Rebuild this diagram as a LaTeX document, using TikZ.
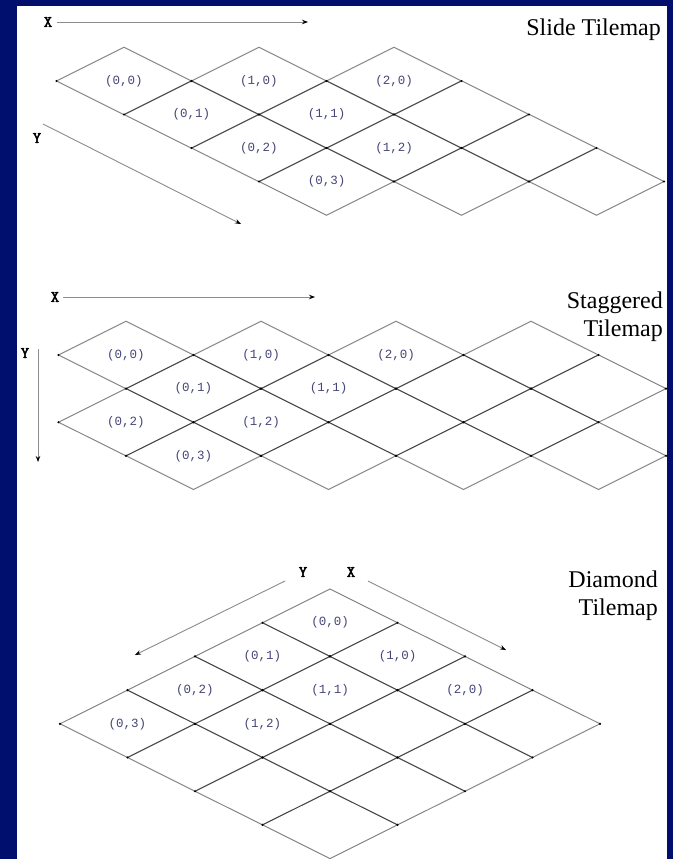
\documentclass[tikz,border=0pt]{standalone}
\usepackage{fontspec}
\setmainfont{Liberation Serif}
\newfontfamily\monolbl{Liberation Mono}
\newfontfamily\axfont[AutoFakeBold=3]{Latin Modern Mono}
\usetikzlibrary{shapes.geometric,arrows.meta}
\definecolor{bgblue}{RGB}{0,14,110}
\definecolor{lblcol}{RGB}{70,70,120}
\tikzset{
  tile/.style={diamond, draw=black, draw opacity=0.48, line width=1pt,
    minimum width=135pt, minimum height=67.4pt, inner sep=0pt, outer sep=0pt},
  lbl/.style={font=\monolbl\fontsize{12.5}{13}\selectfont, text=lblcol, inner sep=0pt},
  axlbl/.style={font=\axfont\bfseries\fontsize{16}{16}\selectfont, inner sep=0pt},
  axisarrow/.style={draw=black!45, line width=0.9pt, -{Stealth[length=6pt,width=4.5pt,color=black]}},
  title/.style={font=\fontsize{24}{28}\selectfont, align=right, inner sep=0pt, anchor=north east},
  vdot/.style={fill=black}
}
\begin{document}
\begin{tikzpicture}[x=1pt,y=-1pt]
\useasboundingbox (0,0) rectangle (673,859);
\fill[bgblue] (0,0) rectangle (673,859);
\fill[white] (17,6) rectangle (667,859);

% ---------- Slide tilemap ----------
\foreach \i in {0,1,2} \foreach \j in {0,...,3}
  \node[tile] (s-\i-\j) at ({124+135*\i+67.5*\j},{81+33.5*\j}) {};
\foreach \i in {0,1,2} \foreach \j in {0,...,3} {
  \fill[vdot] (s-\i-\j.west) circle[radius=1.2pt];
  \fill[vdot] (s-\i-\j.east) circle[radius=1.2pt];
}
\foreach \i/\j in {0/0,1/0,2/0,0/1,1/1,0/2,1/2,0/3}
  \node[lbl] (sl-\i-\j) at (s-\i-\j) {(\i,\j)};
\node[axlbl] (sx) at (48,22) {X};
\coordinate (sxa) at (57,22);
\coordinate (sxb) at (308,22);
\draw[axisarrow] (sxa) -- (sxb);
\node[axlbl] (sy) at (37,138) {Y};
\coordinate (sya) at (43,124);
\coordinate (syb) at (241,224);
\draw[axisarrow] (sya) -- (syb);
\node[title] (st) at (661,18.5) {Slide Tilemap};

% ---------- Staggered tilemap ----------
\foreach \i in {0,...,3} \foreach \j in {0,...,3} {
  \pgfmathsetmacro\xx{126+135*\i+67.5*mod(\j,2)}
  \node[tile] (g-\i-\j) at (\xx,{355+33.6*\j}) {};
}
\foreach \i in {0,...,3} \foreach \j in {0,...,3} {
  \fill[vdot] (g-\i-\j.west) circle[radius=1.2pt];
  \fill[vdot] (g-\i-\j.east) circle[radius=1.2pt];
}
\foreach \i/\j in {0/0,1/0,2/0,0/1,1/1,0/2,1/2,0/3}
  \node[lbl] (gl-\i-\j) at (g-\i-\j) {(\i,\j)};
\node[axlbl] (gx) at (55,297) {X};
\coordinate (gxa) at (63,297);
\coordinate (gxb) at (315,297);
\draw[axisarrow] (gxa) -- (gxb);
\node[axlbl] (gy) at (25,353) {Y};
\coordinate (gya) at (38,349);
\coordinate (gyb) at (38,462);
\draw[axisarrow] (gya) -- (gyb);
\node[title] (gt) at (663,291.5) {Staggered\\Tilemap};

% ---------- Diamond tilemap ----------
\foreach \i in {0,...,3} \foreach \j in {0,...,3}
  \node[tile] (d-\i-\j) at ({330+67.5*(\i-\j)},{589+33.7*(\i+\j+1)}) {};
\foreach \i in {0,...,3} \foreach \j in {0,...,3} {
  \fill[vdot] (d-\i-\j.west) circle[radius=1.2pt];
  \fill[vdot] (d-\i-\j.east) circle[radius=1.2pt];
}
\foreach \i/\j in {0/0,0/1,1/0,0/2,1/1,2/0,0/3,1/2}
  \node[lbl] (dl-\i-\j) at (d-\i-\j) {(\i,\j)};
\node[axlbl] (dy) at (303,572) {Y};
\coordinate (dya) at (285,581);
\coordinate (dyb) at (135,655);
\draw[axisarrow] (dya) -- (dyb);
\node[axlbl] (dx) at (351,572) {X};
\coordinate (dxa) at (368,581);
\coordinate (dxb) at (506,650);
\draw[axisarrow] (dxa) -- (dxb);
\node[title] (dt) at (658,570.5) {Diamond\\Tilemap};
\end{tikzpicture}
\end{document}
